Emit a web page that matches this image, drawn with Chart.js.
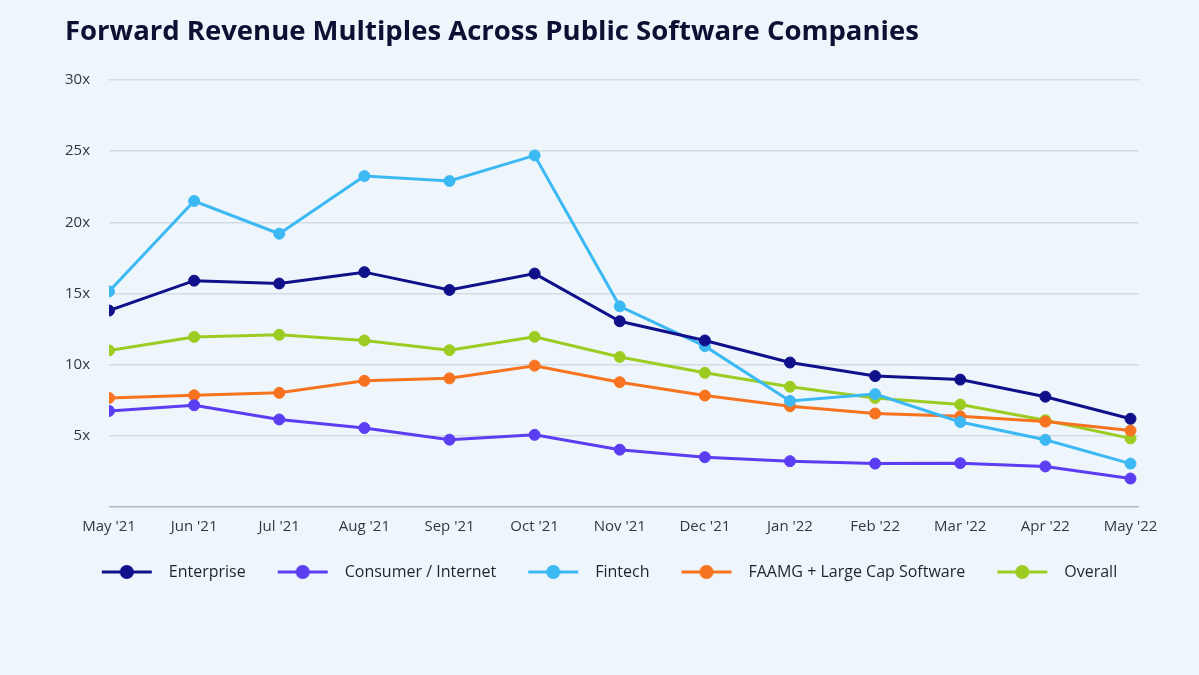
<!DOCTYPE html>
<html>
<head>
<meta charset="utf-8">
<script src="https://cdn.jsdelivr.net/npm/chart.js@4.4.1/dist/chart.umd.min.js"></script>
<style>
  html, body { margin: 0; padding: 0; background: #eef6fc; }
  #wrap { width: 1199px; height: 675px; position: relative; }
</style>
</head>
<body>
<div id="wrap"><canvas id="c"></canvas></div>
<script>
const months = ["May '21","Jun '21","Jul '21","Aug '21","Sep '21","Oct '21","Nov '21","Dec '21","Jan '22","Feb '22","Mar '22","Apr '22","May '22"];
const enterprise = [13.8, 15.9, 15.7, 16.5, 15.25, 16.4, 13.05, 11.7, 10.15, 9.2, 8.95, 7.75, 6.2];
const consumer   = [6.75, 7.15, 6.15, 5.55, 4.73, 5.07, 4.03, 3.5, 3.22, 3.05, 3.08, 2.85, 2.0];
const fintech    = [15.15, 21.5, 19.2, 23.25, 22.9, 24.7, 14.1, 11.3, 7.45, 7.93, 5.97, 4.72, 3.05];
const faamg      = [7.66, 7.85, 8.02, 8.87, 9.04, 9.93, 8.77, 7.83, 7.08, 6.57, 6.37, 6.0, 5.37];
const overall    = [11.0, 11.95, 12.1, 11.7, 11.02, 11.96, 10.54, 9.43, 8.45, 7.66, 7.2, 6.1, 4.82];
const yTicks = [0, 5, 10, 15, 20, 25, 30];

const seriesNames = ["Enterprise", "Consumer / Internet", "Fintech", "FAAMG + Large Cap Software", "Overall"];
const seriesData = [enterprise, consumer, fintech, faamg, overall];
const seriesColors = ["#10108a", "#5b3df2", "#3cb9f3", "#f7731f", "#9ccc22"];

function legendIcon(color) {
  const cv = document.createElement('canvas');
  cv.width = 74; cv.height = 16;
  const g = cv.getContext('2d');
  g.strokeStyle = color; g.lineWidth = 3;
  g.beginPath(); g.moveTo(15, 8); g.lineTo(65, 8); g.stroke();
  g.fillStyle = color;
  g.beginPath(); g.arc(40, 8, 7, 0, Math.PI * 2); g.fill();
  return cv;
}

const datasets = seriesNames.map((name, i) => ({
  label: name,
  data: seriesData[i].map((v, k) => ({ x: k, y: v })),
  borderColor: seriesColors[i],
  backgroundColor: seriesColors[i],
  pointBackgroundColor: seriesColors[i],
  pointBorderColor: seriesColors[i],
  borderWidth: 3,
  pointRadius: 5.5,
  pointBorderWidth: 1,
  pointStyle: 'circle',
  tension: 0,
  legendIcon: legendIcon(seriesColors[i])
}));

new Chart(document.getElementById('c'), {
  type: 'line',
  data: { datasets },
  options: {
    responsive: true,
    maintainAspectRatio: false,
    animation: false,
    devicePixelRatio: 1,
    layout: { padding: { left: 65, right: 60, top: 0, bottom: 85 } },
    plugins: {
      tooltip: { enabled: false },
      title: {
        display: true,
        text: 'Forward Revenue Multiples Across Public Software Companies',
        align: 'start',
        color: '#0c1033',
        font: { family: 'Open Sans', size: 27.5, weight: 'bold' },
        padding: { top: 16, bottom: 31 }
      },
      legend: {
        position: 'bottom',
        labels: {
          usePointStyle: true,
          pointStyleWidth: 74,
          boxHeight: 16,
          padding: 17,
          color: '#1f2330',
          font: { family: 'Open Sans', size: 16 },
          generateLabels(chart) {
            return chart.data.datasets.map((ds, i) => ({
              text: ds.label,
              fillStyle: ds.borderColor,
              strokeStyle: ds.borderColor,
              lineWidth: 0,
              pointStyle: ds.legendIcon,
              fontColor: '#1f2330',
              hidden: false,
              datasetIndex: i
            }));
          }
        }
      }
    },
    scales: {
      x: {
        type: 'linear',
        min: 0,
        max: 12.1,
        afterBuildTicks(axis) { axis.ticks = months.map((m, k) => ({ value: k })); },
        grid: { display: false, drawTicks: false },
        border: { display: false },
        ticks: {
          color: '#333840',
          font: { family: 'Open Sans', size: 15 },
          padding: 11,
          maxRotation: 0,
          autoSkip: false,
          callback: (v) => months[v]
        }
      },
      y: {
        min: 0,
        max: 30,
        afterBuildTicks(axis) { axis.ticks = yTicks.map(v => ({ value: v })); },
        afterFit(axis) { axis.width = 44; },
        border: { display: false },
        grid: {
          color: (c) => (c.tick && c.tick.value === 0) ? '#b3bcc3' : '#d3dce3',
          lineWidth: 1.5,
          drawTicks: false
        },
        ticks: {
          color: '#333840',
          font: { family: 'Open Sans', size: 15 },
          padding: 19,
          callback: (v) => v === 0 ? '' : v + 'x'
        }
      }
    }
  }
});
</script>
</body>
</html>
